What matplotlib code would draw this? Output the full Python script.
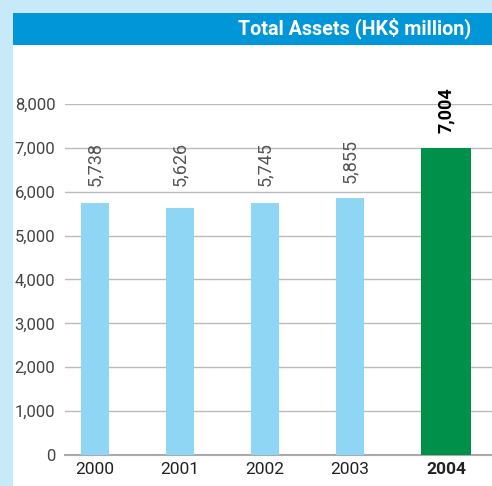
import matplotlib.pyplot as plt
from matplotlib.patches import Rectangle

# data
years = ["2000", "2001", "2002", "2003", "2004"]
assets = [5738, 5626, 5745, 5855, 7004]
value_labels = ["5,738", "5,626", "5,745", "5,855", "7,004"]
y_ticks = [0, 1000, 2000, 3000, 4000, 5000, 6000, 7000, 8000]
y_tick_labels = ["0", "1,000", "2,000", "3,000", "4,000", "5,000", "6,000", "7,000", "8,000"]

light_blue = "#8fd6f5"
green = "#00904a"
plt.rcParams["font.family"] = ["Roboto", "DejaVu Sans"]

fig = plt.figure(figsize=(4.92, 4.86), dpi=100)
fig.patch.set_facecolor("#c8e9f8")

# white panel and blue header
W, H = 492, 486
fig.patches.append(Rectangle((13 / W, 0), 1, 1 - 45 / H, transform=fig.transFigure,
                             facecolor="white", edgecolor="none", zorder=-10))
fig.patches.append(Rectangle((13 / W, 1 - 45 / H), 1, 32 / H, transform=fig.transFigure,
                             facecolor="#0096d8", edgecolor="none", zorder=-10))
fig.text(471 / W, 1 - 28 / H, "Total Assets (HK$ million)", color="white",
         fontsize=14.2, fontweight="bold", ha="right", va="center")

ax = fig.add_axes([65 / W, 1 - 455 / H, 1 - 65 / W, (455 - 104) / H])
ax.set_facecolor("none")
ax.set_zorder(5)

# the highlighted year sits a bit further right than the regular spacing
x = [0, 1, 2, 3, 4.13]
widths = [0.33, 0.33, 0.33, 0.33, 0.59]
colors = [light_blue] * 4 + [green]
ax.bar(x, assets, width=widths, color=colors, zorder=3)

for i, v in enumerate(assets):
    last = i == len(assets) - 1
    ax.text(x[i], max(v + 340, 6120), value_labels[i], rotation=90,
            ha="center", va="bottom", fontsize=13,
            color="black" if last else "#555555",
            fontweight="bold" if last else "normal", clip_on=False, zorder=4)

ax.set_xlim(-0.353, 4.67)
ax.set_ylim(0, 8000)
ax.set_yticks(y_ticks)
ax.set_yticklabels(y_tick_labels)
ax.set_xticks(x)
ax.set_xticklabels(years)
ax.get_xticklabels()[-1].set_fontweight("bold")
ax.tick_params(axis="y", length=0, pad=7, labelsize=12, labelcolor="#444444")
ax.tick_params(axis="x", length=0, pad=5, labelsize=12.5, labelcolor="#222222")
ax.grid(axis="y", color="#bbbbbb", linewidth=1, zorder=1)
for s in ["top", "right", "left"]:
    ax.spines[s].set_visible(False)
ax.spines["bottom"].set_color("#aaaaaa")
ax.spines["bottom"].set_linewidth(1.5)

plt.savefig("out.png", dpi=100, facecolor=fig.get_facecolor())
